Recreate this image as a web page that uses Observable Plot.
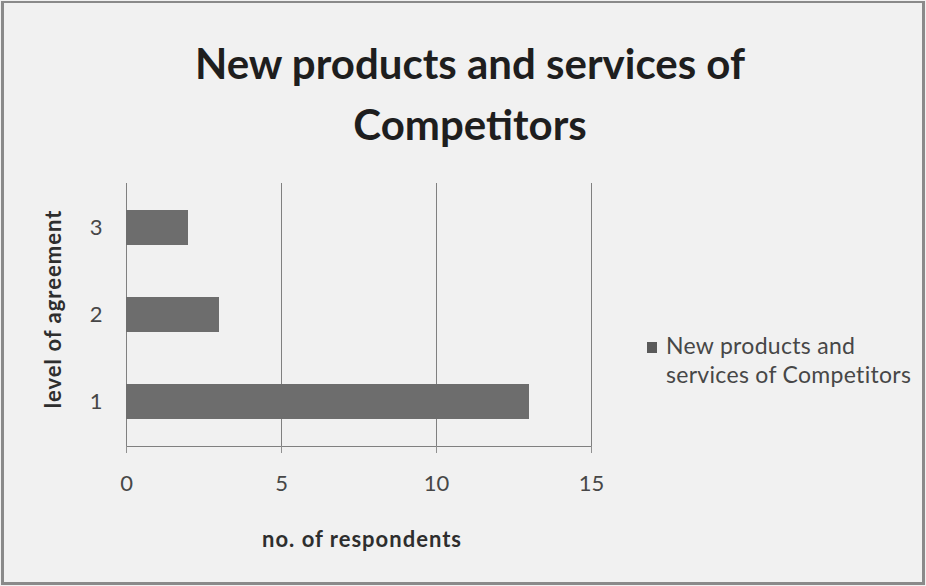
<!DOCTYPE html>
<html>
<head>
<meta charset="utf-8">
<script src="https://cdn.jsdelivr.net/npm/d3@7"></script>
<script src="https://cdn.jsdelivr.net/npm/@observablehq/plot@0.6"></script>
<style>
  html, body { margin: 0; padding: 0; background: #fff; }
  #wrap { position: relative; width: 926px; height: 586px; background: #f1f1f1; font-family: Lato, "Open Sans", sans-serif; overflow: hidden; }
  #frame { position: absolute; left: 1px; top: 1px; right: 1px; bottom: 1px; border: 3px solid #8a8a8a; border-top-width: 2px; pointer-events: none; }
  #title { position: absolute; left: 120px; width: 700px; top: 33px; text-align: center; font-weight: bold; font-size: 42px; line-height: 61px; color: #1e1e1e; }
  #legend { position: absolute; left: 666px; top: 331px; font-size: 23px; color: #474747; line-height: 29px; letter-spacing: 0.3px; white-space: nowrap; }
  #legend .sw { position: absolute; left: -19px; top: 11px; width: 10px; height: 11px; background: #5a5a5a; }
  #chart { position: absolute; left: 0; top: 0; }
  .lbl { letter-spacing: 1px; }
</style>
</head>
<body>
<div id="wrap">
  <div id="chart"></div>
  <div id="title">New products and services of<br>Competitors</div>
  <div id="legend"><span class="sw"></span><div>New products and</div><div>services of Competitors</div></div>
  <div id="frame"></div>
</div>
<script>
const categories = ["3", "2", "1"];
const values = [2, 3, 13];
const xTicks = [0, 5, 10, 15];
const seriesName = "New products and services of Competitors";

const data = categories.map((c, i) => ({level: c, count: values[i]}));

const chart = Plot.plot({
  width: 926,
  height: 586,
  marginLeft: 126,
  marginRight: 335,
  marginTop: 183,
  marginBottom: 140,
  style: {background: "transparent", fontFamily: "Lato, 'Open Sans', sans-serif", fontSize: "22px", color: "#474747"},
  x: {domain: [0, 15], ticks: xTicks, label: null},
  y: {domain: categories, paddingInner: 0.6, paddingOuter: 0.3, label: null},
  marks: [
    Plot.gridX(xTicks, {stroke: "#808080", strokeOpacity: 1, strokeWidth: 1}),
    Plot.frame({anchor: "bottom", stroke: "#808080"}),
    Plot.barX(data, {y: "level", x: "count", fill: "#6d6d6d"}),
    Plot.axisX({ticks: xTicks, tickSize: 7, tickPadding: 22, stroke: "#909090", label: null, fontSize: 22}),
    Plot.axisY({tickSize: 0, tickPadding: 24, label: null, fontSize: 22}),
    Plot.text(["no. of respondents"], {frameAnchor: "bottom", lineAnchor: "middle", dy: 93, dx: 3, fontWeight: "bold", fontSize: 22, fill: "#2e2e2e", className: "lbl"}),
    Plot.text(["level of agreement"], {frameAnchor: "left", dx: -73, dy: -6, textAnchor: "middle", lineAnchor: "middle", rotate: -90, fontWeight: "bold", fontSize: 22, fill: "#2e2e2e", className: "lbl"})
  ]
});
document.getElementById("chart").appendChild(chart);
</script>
</body>
</html>
